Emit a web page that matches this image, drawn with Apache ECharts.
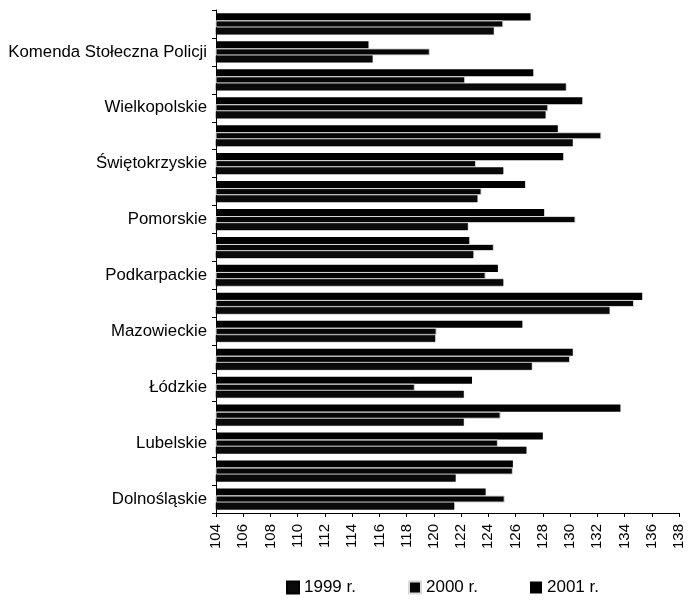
<!DOCTYPE html>
<html>
<head>
<meta charset="utf-8">
<script src="https://cdn.jsdelivr.net/npm/echarts@6/dist/echarts.min.js"></script>
<style>
  html, body { margin: 0; padding: 0; background: #fff; }
  #chart { width: 688px; height: 601px; }
</style>
</head>
<body>
<div id="chart"></div>
<script>
// Regions, bottom to top
const categories = [
  'Dolnośląskie', 'Kujawsko-Pomorskie', 'Lubelskie', 'Lubuskie', 'Łódzkie',
  'Małopolskie', 'Mazowieckie', 'Opolskie', 'Podkarpackie', 'Podlaskie',
  'Pomorskie', 'Śląskie', 'Świętokrzyskie', 'Warmińsko-Mazurskie',
  'Wielkopolskie', 'Zachodniopomorskie', 'Komenda Stołeczna Policji', 'Polska'
];

const values1999 = [121.5, 121.6, 126.8, 122.2, 122.2, 127.2, 120.1, 132.9, 125.1, 122.9,
                    122.5, 123.2, 125.1, 130.2, 128.2, 129.7, 115.5, 124.4];
const values2000 = [125.2, 125.8, 124.7, 124.9, 118.6, 130.0, 120.2, 134.7, 123.8, 124.4,
                    130.4, 123.5, 123.1, 132.3, 128.4, 122.3, 119.7, 125.1];
const values2001 = [123.8, 125.8, 128.0, 133.7, 122.8, 130.2, 126.5, 135.3, 124.7, 122.6,
                    128.1, 126.7, 129.5, 129.1, 130.9, 127.3, 115.2, 127.1];

const seriesNames = ['1999 r.', '2000 r.', '2001 r.'];

const axisMin = 104;
const axisMax = 138;
const axisStep = 2;

const font = 'Liberation Sans, Arial, sans-serif';

const chart = echarts.init(document.getElementById('chart'), null, { renderer: 'canvas' });

const barCommon = { type: 'bar', barGap: '0%', barCategoryGap: '24%' };

chart.setOption({
  backgroundColor: '#ffffff',
  animation: false,
  textStyle: { fontFamily: font, color: '#000' },
  grid: { left: 216, right: 9, top: 10, bottom: 88, containLabel: false },
  legend: {
    bottom: 0,
    left: 281,
    itemWidth: 12,
    itemHeight: 12,
    itemGap: 52,
    icon: 'rect',
    textStyle: { fontFamily: font, fontSize: 17, color: '#000' },
    data: seriesNames
  },
  xAxis: {
    type: 'value',
    min: axisMin,
    max: axisMax,
    interval: axisStep,
    splitLine: { show: false },
    axisLine: { show: true, lineStyle: { color: '#000', width: 1 } },
    axisTick: { show: true, length: 4, inside: false, lineStyle: { color: '#000' } },
    axisLabel: { rotate: 90, fontSize: 15, color: '#000', fontFamily: font, margin: 11 }
  },
  yAxis: {
    type: 'category',
    data: categories,
    axisLine: { show: true, lineStyle: { color: '#000', width: 1 } },
    axisTick: { show: true, length: 4, interval: 0, lineStyle: { color: '#000' } },
    axisLabel: { interval: 1, fontSize: 16.8, color: '#000', fontFamily: font, margin: 9 }
  },
  // 2001 first so it sits on top of each group; legend keeps chronological order
  series: [
    Object.assign({ name: seriesNames[2], data: values2001,
      itemStyle: { color: '#000000' } }, barCommon),
    Object.assign({ name: seriesNames[1], data: values2000,
      itemStyle: { color: '#060606', borderColor: '#d9d9d9', borderWidth: 1 } }, barCommon),
    Object.assign({ name: seriesNames[0], data: values1999,
      itemStyle: { color: '#0a0a0a', borderColor: '#000', borderWidth: 0.5 } }, barCommon)
  ]
});
</script>
</body>
</html>
